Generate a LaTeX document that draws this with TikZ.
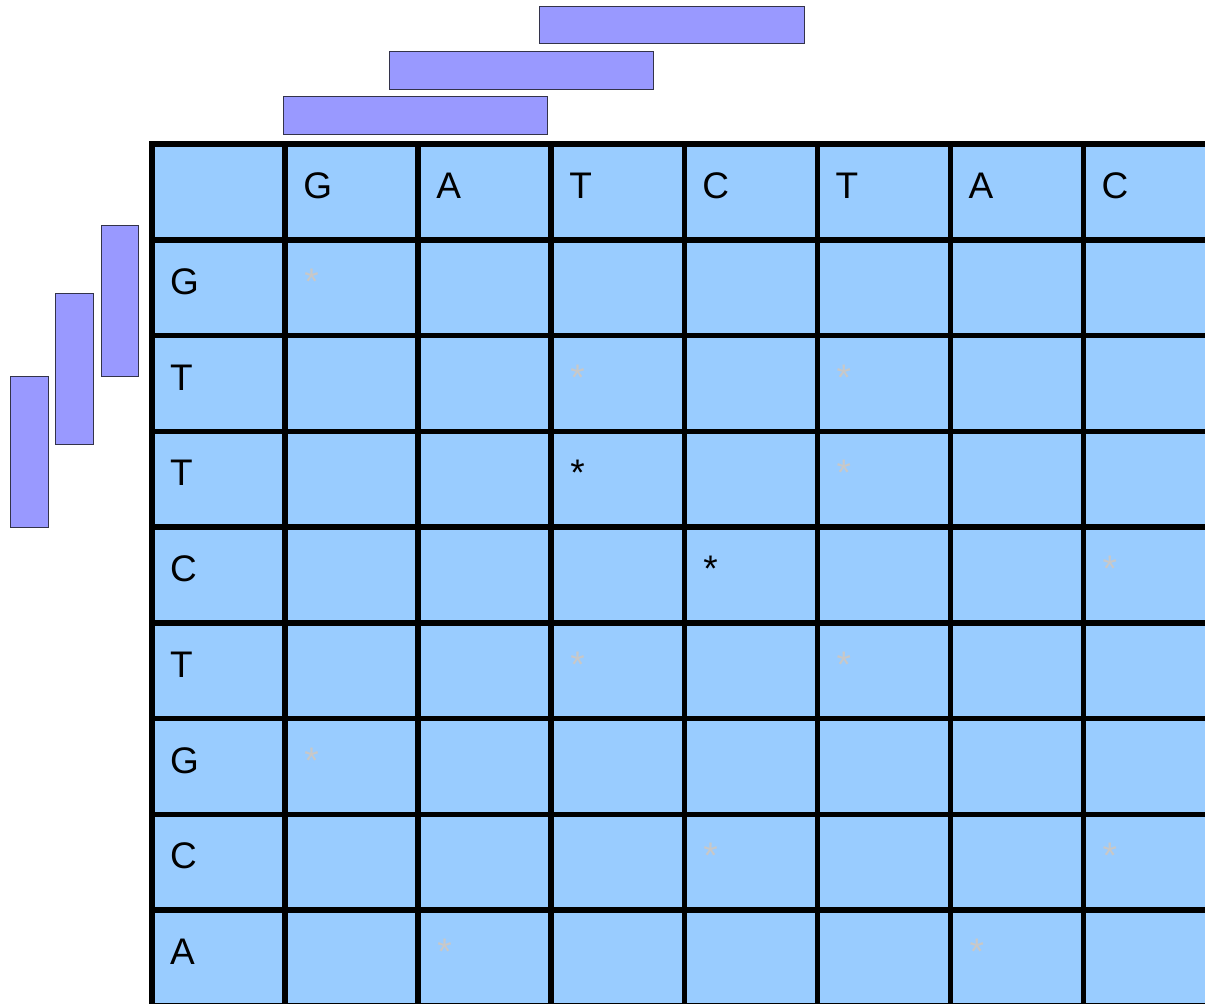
\documentclass[tikz,border=0pt]{standalone}
\usepackage{fontspec}
\setmainfont{Liberation Sans}
\definecolor{cellblue}{HTML}{99CCFF}
\definecolor{barblue}{HTML}{9999FF}
\definecolor{barline}{HTML}{33334A}
\definecolor{stargrey}{HTML}{C8C8C8}
\begin{document}
\begin{tikzpicture}[x=1pt,y=-1pt,
  lbl/.style={anchor=base west,inner sep=0pt,font=\fontsize{37}{44}\selectfont},
  hit/.style={lbl,text=black},
  faint/.style={lbl,text=stargrey},
  bar/.style={fill=barblue,draw=barline,line width=1pt},
  gridline/.style={line width=5.5pt,line cap=rect,draw=black}]
\useasboundingbox (0,0) rectangle (1205,1004);
\clip (0,0) rectangle (1205,1004);
% read bars, top
\draw[bar] (539.5,6) rectangle (804,43.3);
\draw[bar] (389,51.3) rectangle (653.3,89);
\draw[bar] (283,96.7) rectangle (547.3,134.3);
% read bars, left
\draw[bar] (101,225) rectangle (138.7,376);
\draw[bar] (55.7,293) rectangle (93.7,444.3);
\draw[bar] (10.7,376) rectangle (48.7,527.3);
% matrix
\fill[cellblue] (152,144) rectangle (1230,1012);
\foreach \i in {0,...,8}
  \draw[gridline] ({152+133.07*\i},144) -- ({152+133.07*\i},1012);
\foreach \j in {0,...,9}
  \draw[gridline] (152,{144+95.75*\j}) -- (1230,{144+95.75*\j});
% header letters
\foreach \l [count=\i] in {G,A,T,C,T,A,C}
  \node[lbl] (h\i) at ({170+133.07*\i},198.5) {\l};
\foreach \l [count=\j] in {G,T,T,C,T,G,C,A}
  \node[lbl] (r\j) at (170,{198.5+95.75*\j}) {\l};
% dots
\foreach \r/\c/\s in {1/1/faint,2/3/faint,2/5/faint,3/3/hit,3/5/faint,4/4/hit,4/7/faint,
  5/3/faint,5/5/faint,6/1/faint,7/4/faint,7/7/faint,8/2/faint,8/6/faint}
  \node[\s] (s\r\c) at ({171+133.07*\c},{198.5+95.75*\r}) {*};
\end{tikzpicture}
\end{document}
